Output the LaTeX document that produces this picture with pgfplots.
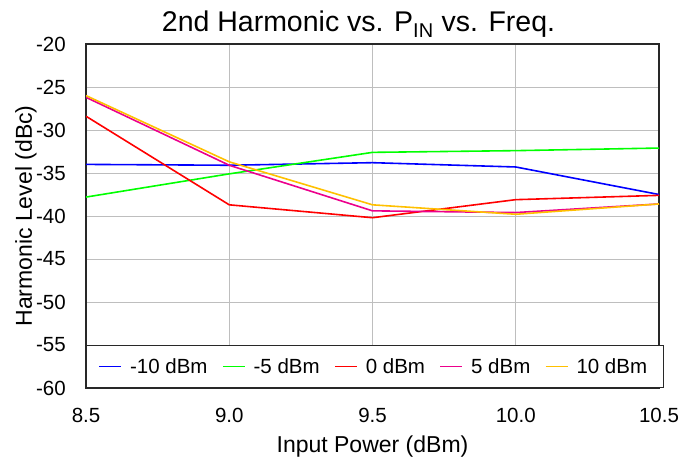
\documentclass[border=0pt]{standalone}
\usepackage{pgfplots}
\pgfplotsset{compat=1.18}
\usepackage{fontspec}
\setmainfont{Liberation Sans}
\definecolor{gridgray}{RGB}{190,190,190}
\definecolor{framegray}{RGB}{40,40,40}
\definecolor{sorange}{RGB}{255,192,0}

\begin{document}
\begin{tikzpicture}
\begin{axis}[
    scale only axis,
    width=573bp, height=344bp,
    xmin=8.5, xmax=10.5,
    ymin=-60, ymax=-20,
    xtick={8.5,9.0,9.5,10.0,10.5},
    ytick={-60,-55,...,-20},
    /pgf/number format/assume math mode=true,
    tick label style={font=\fontsize{20.5bp}{24bp}\selectfont, inner sep=0pt},
    xticklabel style={anchor=north, yshift=-20bp,
        /pgf/number format/fixed, /pgf/number format/fixed zerofill,
        /pgf/number format/precision=1},
    yticklabel style={anchor=east, xshift=-20bp},
    major tick length=0pt,
    grid=major,
    grid style={gridgray, line width=0.8pt},
    axis line style={framegray, line width=1.3pt},
    xlabel={Input Power (dBm)},
    ylabel={Harmonic Level (dBc)},
    every axis x label/.style={at={(axis description cs:0.5,0)}, anchor=base, yshift=-64bp,
        font=\fontsize{23bp}{27bp}\selectfont},
    every axis y label/.style={at={(axis description cs:0,0.5)}, xshift=-54bp, rotate=90, anchor=base,
        font=\fontsize{23bp}{27bp}\selectfont},
    title={2nd Harmonic vs. P\textsubscript{IN} vs. Freq.},
    every axis title/.style={at={(axis description cs:0.5,1)}, anchor=base, yshift=12bp, xshift=-14bp,
        font=\fontsize{28.5bp}{33bp}\selectfont},
    legend columns=5,
    legend style={at={(0,0)}, anchor=south west, draw=framegray, line width=1pt,
        font=\fontsize{20.5bp}{24bp}\selectfont, inner xsep=12bp, inner ysep=7bp,
        nodes={inner xsep=4bp, inner ysep=6bp},
        /tikz/every odd column/.append style={column sep=4bp},
        /tikz/every even column/.append style={column sep=10.5bp}},
    legend image code/.code={\draw[#1, line width=1.6pt] (0bp,0bp) -- (22bp,0bp);},
    every axis plot/.append style={line width=1.6pt},
]
\addplot[draw=blue] coordinates {(8.5,-34.0) (9.0,-34.1) (9.5,-33.8) (10.0,-34.3) (10.5,-37.5)};
\addlegendentry{-10 dBm}
\addplot[draw=green] coordinates {(8.5,-37.8) (9.0,-35.1) (9.5,-32.6) (10.0,-32.4) (10.5,-32.1)};
\addlegendentry{-5 dBm}
\addplot[draw=red] coordinates {(8.5,-28.4) (9.0,-38.7) (9.5,-40.2) (10.0,-38.1) (10.5,-37.6)};
\addlegendentry{0 dBm}
\addplot[draw=magenta] coordinates {(8.5,-26.2) (9.0,-34.1) (9.5,-39.4) (10.0,-39.6) (10.5,-38.6)};
\addlegendentry{5 dBm}
\addplot[draw=sorange] coordinates {(8.5,-26.0) (9.0,-33.7) (9.5,-38.7) (10.0,-39.8) (10.5,-38.6)};
\addlegendentry{10 dBm}
\end{axis}
\pgfresetboundingbox
\path (current axis.south west) ++(-86bp,-71bp) rectangle ++(681bp,459bp);
\end{tikzpicture}
\end{document}
